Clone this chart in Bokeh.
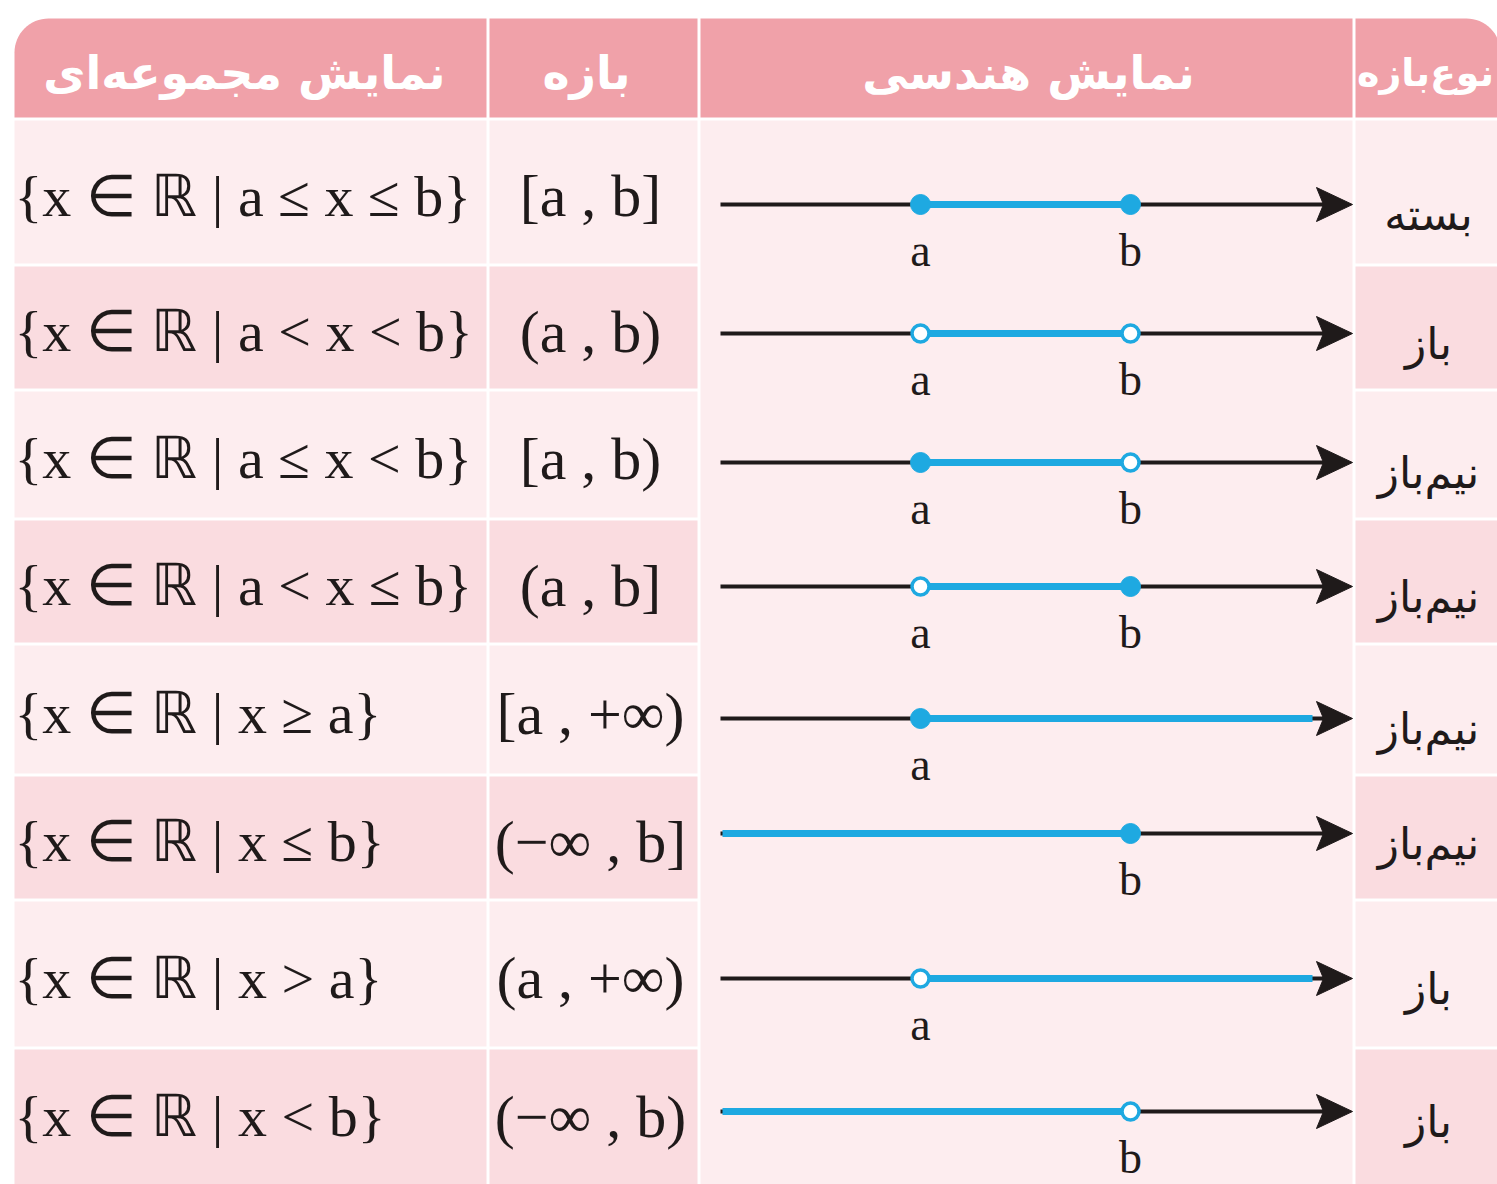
from bokeh.plotting import figure
from bokeh.models import Range1d
from bokeh.core.properties import value
from bokeh.embed import file_html
from bokeh.resources import INLINE
import math

# ---------------- data ----------------
headers = ["نمایش مجموعه‌ای", "بازه", "نمایش هندسی", "نوع‌بازه"]
set_notation = [
    "{x ∈ ℝ | a ≤ x ≤ b}",
    "{x ∈ ℝ | a < x < b}",
    "{x ∈ ℝ | a ≤ x < b}",
    "{x ∈ ℝ | a < x ≤ b}",
    "{x ∈ ℝ | x ≥ a}",
    "{x ∈ ℝ | x ≤ b}",
    "{x ∈ ℝ | x > a}",
    "{x ∈ ℝ | x < b}",
]
intervals = ["[a , b]", "(a , b)", "[a , b)", "(a , b]", "[a , +∞)", "(−∞ , b]", "(a , +∞)", "(−∞ , b)"]
interval_types = ["بسته", "باز", "نیم‌باز", "نیم‌باز", "نیم‌باز", "نیم‌باز", "باز", "باز"]
left_end = ["a", "a", "a", "a", "a", "-inf", "a", "-inf"]
right_end = ["b", "b", "b", "b", "+inf", "b", "+inf", "b"]
left_closed = [True, False, True, False, True, None, False, None]
right_closed = [True, False, False, True, None, True, None, False]

# ---------------- layout / style ----------------
W, H = 1497, 1184
col_edges = [(14, 486), (489, 697), (700, 1352), (1355, 1500)]
header_tb = (18, 117)
row_edges = [(120, 263), (266, 388), (391, 517), (520, 642),
             (645, 773), (776, 898), (901, 1046), (1049, 1190)]
line_y = [204, 333, 462, 586, 718, 833, 978, 1111]
pos = {"-inf": 722, "a": 920, "b": 1130, "+inf": 1312}
line_start, arrow_tip = 720, 1352

HEADER = "#F0A1A9"
LIGHT = "#FDEDEF"
DARK = "#FADCE0"
BLUE = "#1EA9E1"
INK = "#1F1A1A"
SERIF = "Liberation Serif"
PERSIAN = "DejaVu Sans"

p = figure(width=W, height=H, output_backend="svg", toolbar_location=None,
           x_range=Range1d(0, W), y_range=Range1d(H, 0),
           min_border=0, outline_line_color=None)
p.axis.visible = False
p.grid.visible = False
p.background_fill_color = "white"
p.border_fill_color = "white"


def rounded(l, r, t, b, rl, rr, n=16):
    xs, ys = [], []
    if rl > 0:
        for i in range(n + 1):
            th = math.pi + (math.pi / 2) * i / n
            xs.append(l + rl + rl * math.cos(th)); ys.append(t + rl + rl * math.sin(th))
    else:
        xs.append(l); ys.append(t)
    if rr > 0:
        for i in range(n + 1):
            th = 1.5 * math.pi + (math.pi / 2) * i / n
            xs.append(r - rr + rr * math.cos(th)); ys.append(t + rr + rr * math.sin(th))
    else:
        xs.append(r); ys.append(t)
    xs += [r, l]; ys += [b, b]
    return xs, ys


# header cells
hx, hy = [], []
for i, (l, r) in enumerate(col_edges):
    rl = 34 if i == 0 else 0
    rr = 34 if i == len(col_edges) - 1 else 0
    xs, ys = rounded(l, r, header_tb[0], header_tb[1], rl, rr)
    hx.append(xs); hy.append(ys)
p.patches(hx, hy, fill_color=HEADER, line_color=None)

# body cells
ql, qr, qt, qb, qc = [], [], [], [], []
for ci, (l, r) in enumerate(col_edges):
    if ci == 2:
        ql.append(l); qr.append(r); qt.append(row_edges[0][0]); qb.append(row_edges[-1][1]); qc.append(LIGHT)
        continue
    for ri, (t, b) in enumerate(row_edges):
        ql.append(l); qr.append(r); qt.append(t); qb.append(b)
        qc.append(LIGHT if ri % 2 == 0 else DARK)
p.quad(left=ql, right=qr, top=qt, bottom=qb, fill_color=qc, line_color=None)

# header texts
hcx = [244, 586, 1028, 1425]
hsize = ["46px", "46px", "46px", "38px"]
p.text(x=hcx, y=[72] * 4, text=headers, text_font=value(PERSIAN), text_font_size=hsize,
       text_font_style="bold", text_color="white", text_align="center", text_baseline="middle")

# body texts
row_c = [(t + b) / 2 + 4 for t, b in row_edges]
row_c[-1] = 1116
p.text(x=[14] * 8, y=row_c, text=set_notation, text_font=value(SERIF), text_font_size="58px",
       text_color=INK, text_align="left", text_baseline="middle")
p.text(x=[590] * 8, y=row_c, text=intervals, text_font=value(SERIF), text_font_size="60px",
       text_color=INK, text_align="center", text_baseline="middle")
p.text(x=[1428] * 8, y=[y + 10 for y in line_y], text=interval_types, text_font=value(PERSIAN),
       text_font_size="44px", text_color=INK, text_align="center", text_baseline="middle")

# number lines: black axis
p.segment(x0=[line_start] * 8, y0=line_y, x1=[arrow_tip - 20] * 8, y1=line_y,
          line_width=4, line_color=INK)

# blue interval segments
bx0 = [pos[s] for s in left_end]
bx1 = [pos[e] for e in right_end]
p.segment(x0=bx0, y0=line_y, x1=bx1, y1=line_y, line_width=7, line_color=BLUE)

# arrow heads
ax, ay = [], []
for y in line_y:
    ax.append([arrow_tip, arrow_tip - 36, arrow_tip - 29, arrow_tip - 36])
    ay.append([y, y - 17, y, y + 17])
p.patches(ax, ay, fill_color=INK, line_color=INK, line_width=1)

# endpoints
fx, fy, ox, oy = [], [], [], []
lx, ly, lt = [], [], []
for i in range(8):
    for name, closed in ((left_end[i], left_closed[i]), (right_end[i], right_closed[i])):
        if closed is None:
            continue
        if closed:
            fx.append(pos[name]); fy.append(line_y[i])
        else:
            ox.append(pos[name]); oy.append(line_y[i])
        lx.append(pos[name]); ly.append(line_y[i] + 46); lt.append(name)
p.scatter(fx, fy, marker="circle", size=20, fill_color=BLUE, line_color=BLUE)
p.scatter(ox, oy, marker="circle", size=17, fill_color="white", line_color=BLUE, line_width=3.5)
p.text(x=lx, y=ly, text=lt, text_font=value(SERIF), text_font_size="46px", text_color=INK,
       text_align="center", text_baseline="middle")

open("out.html", "w").write(file_html(p, INLINE))
